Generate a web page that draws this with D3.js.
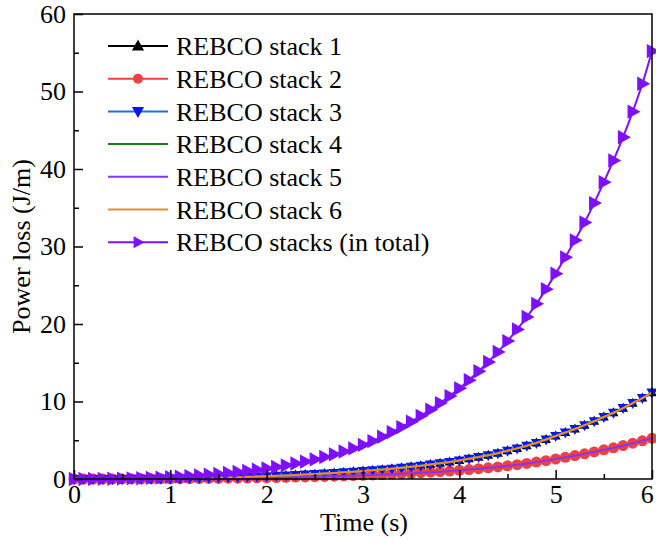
<!DOCTYPE html>
<html>
<head>
<meta charset="utf-8">
<script src="https://cdn.jsdelivr.net/npm/d3@7"></script>
<style>
  body { margin: 0; background: #fff; }
  text { font-family: "Liberation Serif", "Times New Roman", serif; }
</style>
</head>
<body>
<div id="chart"></div>
<script>
// time axis, 0 .. 6 s every 0.1 s
const times = d3.range(61).map(i => i / 10);

// stacks 1, 3, 4, 6 (outer stacks)
const stackOuter = [0, 0, 0, 0, 0.01, 0.01, 0.02, 0.03, 0.04, 0.05,
  0.06, 0.08, 0.1, 0.12, 0.15, 0.18, 0.21, 0.24, 0.28, 0.32,
  0.36, 0.41, 0.46, 0.52, 0.58, 0.64, 0.71, 0.78, 0.86, 0.94,
  1.03, 1.12, 1.22, 1.33, 1.45, 1.58, 1.72, 1.87, 2.03, 2.2,
  2.4, 2.61, 2.83, 3.07, 3.33, 3.65, 3.95, 4.3, 4.65, 5.1,
  5.55, 6.0, 6.45, 6.95, 7.45, 8.0, 8.55, 9.15, 9.8, 10.45, 11.15];

// stacks 2, 5 (inner stacks)
const stackInner = [0, 0, 0, 0, 0, 0.01, 0.01, 0.01, 0.02, 0.02,
  0.03, 0.04, 0.05, 0.06, 0.07, 0.08, 0.1, 0.11, 0.13, 0.15,
  0.17, 0.19, 0.22, 0.25, 0.27, 0.3, 0.33, 0.37, 0.4, 0.44,
  0.48, 0.53, 0.57, 0.62, 0.68, 0.74, 0.81, 0.88, 0.95, 1.03,
  1.12, 1.22, 1.33, 1.44, 1.56, 1.7, 1.85, 2.01, 2.18, 2.37,
  2.58, 2.8, 3.02, 3.25, 3.5, 3.76, 4.03, 4.32, 4.62, 4.93, 5.25];

// all stacks together
const stackTotal = [0, 0, 0.01, 0.02, 0.03, 0.05, 0.07, 0.1, 0.14, 0.19,
  0.25, 0.31, 0.38, 0.46, 0.55, 0.66, 0.78, 0.91, 1.05, 1.2,
  1.37, 1.56, 1.77, 2.0, 2.25, 2.53, 2.84, 3.18, 3.55, 3.95,
  4.4, 4.9, 5.45, 6.05, 6.7, 7.4, 8.15, 8.95, 9.8, 10.7,
  11.7, 12.75, 13.9, 15.1, 16.4, 17.8, 19.3, 20.9, 22.6, 24.5,
  26.5, 28.6, 30.8, 33.1, 35.6, 38.3, 41.1, 44.1, 47.4, 51.0, 55.2];

const xTicks = [0, 1, 2, 3, 4, 5, 6];
const yTicks = [0, 10, 20, 30, 40, 50, 60];

// series drawn in legend order
const series = [
  {name: "REBCO stack 1", values: stackOuter, line: "#000000", marker: "up", fill: "#000000", size: 9},
  {name: "REBCO stack 2", values: stackInner, line: "#EE4242", marker: "circle", fill: "#EE4242", size: 5.5},
  {name: "REBCO stack 3", values: stackOuter, line: "#1E6FE2", marker: "down", fill: "#0A16EE", size: 10},
  {name: "REBCO stack 4", values: stackOuter, line: "#1B7F1B", marker: null},
  {name: "REBCO stack 5", values: stackInner, line: "#8A33EE", marker: null},
  {name: "REBCO stack 6", values: stackOuter, line: "#F08A2C", marker: null},
  {name: "REBCO stacks (in total)", values: stackTotal, line: "#7F0FFF", marker: "right", fill: "#7F0FFF", size: 13}
];

let margin = {top: 14, right: 4, bottom: 64, left: 74},
    width = 656 - margin.left - margin.right,
    height = 543 - margin.top - margin.bottom;

let svg = d3.select("#chart")
  .append("svg")
    .attr("width", 656)
    .attr("height", 543)
  .append("g")
    .attr("transform", "translate(" + margin.left + "," + margin.top + ")");

const X_SCALE = d3.scaleLinear().domain([0, 6]).range([0, width]);
const Y_SCALE = d3.scaleLinear().domain([0, 60]).range([height, 0]);

// marker shape as path string, centred on 0,0
function markerPath(type, s) {
  if (type === "up") return "M0," + (-s * 0.6) + "L" + (s * 0.55) + "," + (s * 0.4) + "L" + (-s * 0.55) + "," + (s * 0.4) + "Z";
  if (type === "down") return "M0," + (s * 0.6) + "L" + (s * 0.55) + "," + (-s * 0.4) + "L" + (-s * 0.55) + "," + (-s * 0.4) + "Z";
  if (type === "right") return "M" + (s * 0.6) + ",0L" + (-s * 0.4) + "," + (s * 0.55) + "L" + (-s * 0.4) + "," + (-s * 0.55) + "Z";
  return d3.symbol().type(d3.symbolCircle).size(Math.PI * s * s)();
}

const line = d3.line()
  .x((d, i) => X_SCALE(times[i]))
  .y(d => Y_SCALE(d))
  .curve(d3.curveMonotoneX);

let plot = svg.append("g");

series.forEach(s => {
  let g = plot.append("g");
  if (s.marker) {
    g.selectAll("path.mk")
      .data(s.values)
      .enter()
      .append("path")
        .attr("class", "mk")
        .attr("transform", (d, i) => "translate(" + X_SCALE(times[i]) + "," + Y_SCALE(d) + ")")
        .attr("d", markerPath(s.marker, s.size))
        .style("fill", s.fill);
  }
  g.append("path")
    .datum(s.values)
    .attr("d", line)
    .style("fill", "none")
    .style("stroke", s.line)
    .style("stroke-width", 2);
});

// axes with inward ticks
let xAxis = svg.append("g")
  .attr("transform", "translate(0," + height + ")")
  .call(d3.axisBottom(X_SCALE).tickValues(xTicks).tickFormat(d3.format("d"))
    .tickSizeInner(-9).tickSizeOuter(0).tickPadding(6));
let xMinor = svg.append("g")
  .attr("transform", "translate(0," + height + ")")
  .call(d3.axisBottom(X_SCALE).tickValues(d3.range(0.5, 6, 1)).tickSizeInner(-5).tickSizeOuter(0).tickFormat(""));

let yAxis = svg.append("g")
  .call(d3.axisLeft(Y_SCALE).tickValues(yTicks).tickFormat(d3.format("d"))
    .tickSizeInner(-9).tickSizeOuter(0).tickPadding(8));
let yMinor = svg.append("g")
  .call(d3.axisLeft(Y_SCALE).tickValues(d3.range(5, 60, 10)).tickSizeInner(-5).tickSizeOuter(0).tickFormat(""));

[xAxis, xMinor, yAxis, yMinor].forEach(a => {
  a.select(".domain").remove();
  a.selectAll("line").style("stroke", "#000").style("stroke-width", 1.5);
  a.selectAll("text").style("font-size", "26px").style("fill", "#000");
});

// last x label sits on the right edge, keep it inside the picture
xAxis.selectAll(".tick text").filter(d => d === 6).attr("text-anchor", "end").attr("dx", "0.05em");

// frame
svg.append("rect")
  .attr("width", width)
  .attr("height", height)
  .style("fill", "none")
  .style("stroke", "#000")
  .style("stroke-width", 1.5);

// axis titles
svg.append("text")
  .attr("x", width / 2 + 1)
  .attr("y", height + 52)
  .attr("text-anchor", "middle")
  .style("font-size", "26px")
  .text("Time (s)");

svg.append("text")
  .attr("transform", "translate(" + (-44) + "," + (height / 2) + ") rotate(-90)")
  .attr("text-anchor", "middle")
  .style("font-size", "26px")
  .text("Power loss (J/m)");

// legend
let legend = svg.append("g").attr("transform", "translate(34,32)");
series.forEach((s, i) => {
  let row = legend.append("g").attr("transform", "translate(0," + (i * 32.7) + ")");
  row.append("line")
    .attr("x1", 0).attr("x2", 60)
    .style("stroke", s.line)
    .style("stroke-width", 2);
  if (s.marker) {
    row.append("path")
      .attr("transform", "translate(30,0)")
      .attr("d", markerPath(s.marker, s.marker === "circle" ? 5 : 11))
      .style("fill", s.fill);
  }
  row.append("text")
    .attr("x", 68)
    .attr("y", 0)
    .attr("dy", "0.35em")
    .style("font-size", "26px")
    .text(s.name);
});
</script>
</body>
</html>
